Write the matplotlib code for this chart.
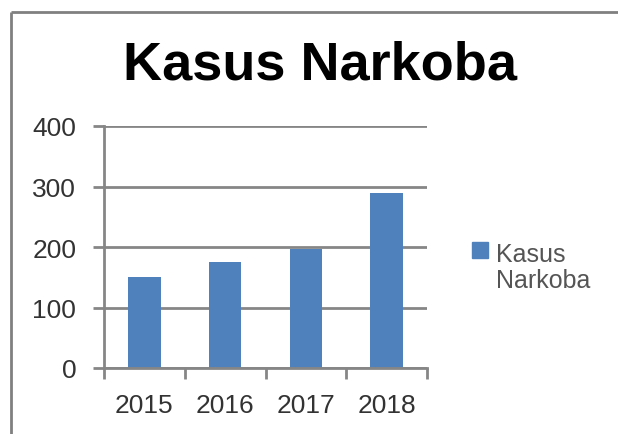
import matplotlib
matplotlib.use("Agg")
import matplotlib.pyplot as plt
from matplotlib.lines import Line2D
from matplotlib.patches import Rectangle

# Data
categories = ["2015", "2016", "2017", "2018"]
values = [150, 175, 197, 290]
series_name = "Kasus Narkoba"
yticks = [0, 100, 200, 300, 400]
title = "Kasus Narkoba"

BAR = "#4F81BD"
GRID = "#868686"
TXT = "#333333"

plt.rcParams["font.family"] = ["Liberation Sans", "DejaVu Sans"]

fig = plt.figure(figsize=(6.18, 4.35), dpi=100)
W, H = 618, 435

def fx(px):
    return px / W

def fy(py):
    return 1 - py / H

# chart border (top and left)
fig.add_artist(Line2D([fx(11), fx(618)], [fy(13), fy(13)], color="#808080", lw=2.0,
                      transform=fig.transFigure, solid_capstyle="butt"))
fig.add_artist(Line2D([fx(11), fx(11)], [fy(13), fy(435)], color="#808080", lw=2.0,
                      transform=fig.transFigure, solid_capstyle="butt"))

ax = fig.add_axes([fx(104), fy(369), fx(427) - fx(104), fy(127) - fy(369)])
x = list(range(len(categories)))
ax.bar(x, values, width=0.4, color=BAR, zorder=3)
ax.set_xlim(-0.5, len(categories) - 0.5)
ax.set_ylim(0, 400)
ax.set_yticks(yticks)
ax.set_yticklabels([str(v) for v in yticks])
ax.yaxis.grid(True, color=GRID, lw=2.0, zorder=0)
ax.set_axisbelow(True)

for s in ["top", "right"]:
    ax.spines[s].set_visible(False)
for s in ["left", "bottom"]:
    ax.spines[s].set_color(GRID)
    ax.spines[s].set_linewidth(2.0)
    ax.spines[s].set_zorder(4)

ax.tick_params(axis="y", direction="out", length=8, width=2.0, color=GRID,
               labelsize=19, labelcolor=TXT, pad=12)
ax.set_xticks(x)
ax.set_xticklabels(categories)
ax.set_xticks([i - 0.5 for i in range(len(categories) + 1)], minor=True)
ax.tick_params(axis="x", which="major", length=0, labelsize=19, labelcolor=TXT, pad=18)
ax.tick_params(axis="x", which="minor", direction="out", length=8, width=2.0, color=GRID)

fig.text(fx(320), fy(80), title, ha="center", va="baseline", fontsize=39,
         fontweight="bold", color="black")

# legend
fig.add_artist(Rectangle((fx(472), fy(259)), fx(488) - fx(472), fy(243) - fy(259),
                         transform=fig.transFigure, color=BAR))
fig.text(fx(496), fy(288), "\n".join(series_name.split(" ")), ha="left", va="baseline",
         fontsize=18, color="#555555", linespacing=1.1)

fig.savefig("out.png", dpi=100)
